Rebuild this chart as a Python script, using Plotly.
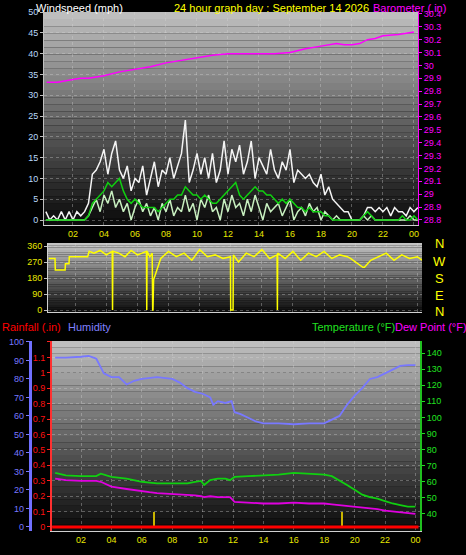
import numpy as np
import plotly.graph_objects as go

# ---------------- data ----------------
wind_t = list(np.arange(0.25, 24.26, 0.25))
gust = [2,0,1,0,2,0,2,0,2,1,2,4,
        11,12,14,17,11,16,19,12,
        10,13,7,10,9,13,6,10,
        14,8,12,11,15,10,13,16,
        24,9,12,16,11,15,10,16,
        9,12,19,11,17,14,18,11,
        14,19,10,15,13,11,17,12,
        10,14,12,17,9,12,11,10,
        11,9,8,11,6,8,5,4,
        3,2,2,0,0,0,1,3,
        3,2,3,2,3,1,3,2,
        2,1,3,2,3]
speed = [0,0,0,0,0,0,0,0,0,0,0,1,
         3,5,2,6,4,7,3,5,
         2,4,0,3,5,2,4,1,
         3,0,4,2,5,1,3,2,
         6,2,4,0,5,3,6,2,
         3,0,5,2,6,3,4,1,
         5,2,6,3,0,4,2,3,
         4,1,3,5,0,2,3,1,
         4,2,3,0,2,1,0,1,
         0,0,0,0,0,0,1,0,
         1,0,0,0,0,0,0,0,
         0,0,1,0,0]
avg = [0,0,0,0,0,0,0,0,0,0,0,1,
       4,5,6,7,9,8,9,10,
       7,5,4,5,4,3,3,3,
       3,2,3,4,5,5,6,6,
       8,7,6,6,5,6,5,4,
       4,5,6,7,8,9,6,5,
       6,7,8,7,7,6,6,5,
       4,5,4,5,4,3,3,2,
       3,2,2,2,1,1,0,0,
       0,0,0,0,0,0,1,2,
       1,0,0,0,0,0,0,0,
       1,0,0,1,0]

baro_t = [0.3,1,2,2.5,3,4,5,6,7,8,9,10,11,12,13,14,15,16,17,18,19,19.5,20,20.5,21,21.5,22,23,24]
baro = [29.87,29.87,29.89,29.9,29.9,29.92,29.95,29.97,29.99,30.02,30.04,30.06,30.08,30.09,30.09,
        30.09,30.09,30.1,30.13,30.15,30.17,30.16,30.16,30.17,30.2,30.21,30.23,30.24,30.26]

dir_t = [0.3,0.7,0.72,1.35,1.37,1.6,1.62,2.8,2.9,3.2,3.6,4.0,4.38,4.4,4.42,4.8,5.2,5.6,6.0,6.3,
         6.58,6.6,6.62,6.8,6.95,6.98,7.0,7.04,7.5,8,8.5,9,9.5,10,10.5,11,11.5,11.98,12.0,12.15,12.17,
         12.5,13,13.5,14,14.5,14.98,15,15.02,15.5,16,16.5,17,17.5,18,18.5,19,19.5,
         19.7,20.5,20.6,21,21.5,22,22.5,23,23.5,24,24.3]
direction = [290,290,225,225,260,260,300,300,330,320,335,310,330,0,330,320,300,335,310,320,
             330,0,330,300,320,0,0,170,290,330,300,320,280,340,300,310,290,300,0,0,310,
             270,320,300,340,290,310,0,320,290,330,280,320,300,330,290,310,300,
             290,240,240,280,300,320,280,310,290,300,280]

th_t = [0.3,1,2,3,3.3,4,5,6,6.5,7,8,9,9.5,9.9,10.1,10.5,11,11.5,11.8,12.1,13,14,15,16,17,18,18.5,19,19.5,20,20.5,21,21.5,22,22.5,23,23.5,24]
temp = [65.5,64,63.5,63.5,65,63,62,60,59.5,59,59,59,60,60.5,58,61,62,62,61,63,63.5,64,64.5,65.5,65,64.5,63.5,61,58,55,52,50.5,49.5,48,46.5,45.5,44.5,44.5]
dew = [62,61,60.5,60.5,60,57,55.5,54,53.5,53,52.5,52,51.5,51,50.5,51,50.5,50.5,50.5,47.5,47,46.5,46.5,47,46.5,46.5,46,45.5,45,44.5,44,43.5,43,42,41.5,41,40.5,40]

hum_t = [0.3,1,2,2.5,3,3.5,4,4.5,5,5.5,6,7,8,8.5,9,9.5,10,10.5,10.7,11,11.5,11.9,12.1,12.5,13,13.5,14,15,16,17,18,18.5,19,19.5,20,20.5,21,21.5,22,22.5,23,23.5,24]
hum = [91.5,91.5,92,92.5,91,83,81,81,77,79,80,81,80,78,75,73,72,70,66,68,67,68,62,61,59,57,56,56,55.5,56,56,58,60,66,71,75,80,81,83,85,87,87.5,87.5]

rain_t = [0.1, 24.2]
rain = [0, 0]
rate_t = [6.8, 19.2]
rate = [0.1, 0.1]

hour_ticks = [2,4,6,8,10,12,14,16,18,20,22,24]
hour_labels = ["02","04","06","08","10","12","14","16","18","20","22","00"]

# ---------------- figure ----------------
W, H = 466, 555
def px(x): return x / W
def py(y): return 1 - y / H

fig = go.Figure()
FONT = "Liberation Sans"

fig.add_trace(go.Scatter(x=wind_t, y=gust, mode="lines", line=dict(color="#f4f4f4", width=1.5), xaxis="x", yaxis="y"))
fig.add_trace(go.Scatter(x=wind_t, y=speed, mode="lines", line=dict(color="#c8f0c0", width=1.5), xaxis="x", yaxis="y"))
fig.add_trace(go.Scatter(x=wind_t, y=avg, mode="lines", line=dict(color="#10d010", width=1.5), xaxis="x", yaxis="y"))
fig.add_trace(go.Scatter(x=baro_t, y=baro, mode="lines", line=dict(color="#ff00ff", width=1.5), xaxis="x", yaxis="y2"))
fig.add_trace(go.Scatter(x=dir_t, y=direction, mode="lines", line=dict(color="#ffff00", width=1.5), xaxis="x2", yaxis="y3"))
fig.add_trace(go.Bar(x=rate_t, y=rate, width=0.08, marker=dict(color="#c8b400", line=dict(width=0)), xaxis="x3", yaxis="y4"))
fig.add_trace(go.Scatter(x=rain_t, y=rain, mode="lines", line=dict(color="#ff0000", width=3), xaxis="x3", yaxis="y4"))
fig.add_trace(go.Scatter(x=hum_t, y=hum, mode="lines", line=dict(color="#7878ff", width=1.8), xaxis="x3", yaxis="y5"))
fig.add_trace(go.Scatter(x=th_t, y=temp, mode="lines", line=dict(color="#10d010", width=1.8), xaxis="x3", yaxis="y6"))
fig.add_trace(go.Scatter(x=th_t, y=dew, mode="lines", line=dict(color="#e000e0", width=1.8), xaxis="x3", yaxis="y6"))

grid = dict(showgrid=True, gridcolor="rgba(215,215,215,0.35)", griddash="dot", gridwidth=1, zeroline=False, automargin=False)
tf = dict(family=FONT, size=9)

# gradient backgrounds
shapes = []
def gradient(x0, x1, y0, y1, top, bot, n=30):
    for i in range(n):
        f = i / (n - 1)
        c = int(top + (bot - top) * f)
        ya = y0 + (y1 - y0) * i / n
        yb = y0 + (y1 - y0) * (i + 1) / n
        shapes.append(dict(type="rect", xref="paper", yref="paper", x0=px(x0), x1=px(x1),
                           y0=py(ya), y1=py(yb), fillcolor=f"rgb({c},{c},{c})", line=dict(width=0), layer="below"))
gradient(44, 418, 12, 225, 190, 12)
gradient(48, 422, 243, 312, 195, 15)
gradient(52, 420, 341, 531, 190, 12)

nog = dict(showgrid=False, zeroline=False, automargin=False)
layout = dict(
    width=W, height=H, paper_bgcolor="black", plot_bgcolor="black", showlegend=False,
    margin=dict(l=0, r=0, t=0, b=0, autoexpand=False), bargap=0, font=dict(family=FONT),
    shapes=shapes,
    xaxis=dict(domain=[px(44), px(418)], anchor="y", range=[0.13, 24.26], tickvals=hour_ticks, ticktext=hour_labels,
               tickfont=dict(color="#e8e800", **tf), showline=True, linecolor="#d0d0d0", **grid),
    yaxis=dict(domain=[py(225), py(12)], anchor="x", range=[-1.2, 50], dtick=5,
               tickfont=dict(color="#b8d8f8", **tf), ticks="outside", ticklen=3, tickcolor="#c0c0c0",
               showline=True, linecolor="#c0c0c0", **grid),
    yaxis2=dict(overlaying="y", side="right", anchor="x", range=[28.761, 30.415],
                tickvals=[28.8,28.9,29,29.1,29.2,29.3,29.4,29.5,29.6,29.7,29.8,29.9,30,30.1,30.2,30.3,30.4],
                ticktext=["28.8","28.9","29","29.1","29.2","29.3","29.4","29.5","29.6","29.7","29.8","29.9","30","30.1","30.2","30.3","30.4"],
                tickfont=dict(color="#ff00ff", **tf), ticks="outside", ticklen=3, tickcolor="#ff00ff",
                showline=True, linecolor="#ff00ff", **nog),
    xaxis2=dict(domain=[px(48), px(422)], anchor="y3", range=[0.25, 24.3], tickvals=hour_ticks,
                showticklabels=False, showline=True, linecolor="#d0d0d0", **grid),
    yaxis3=dict(domain=[py(312), py(243)], anchor="x2", range=[-11, 377], tickvals=[0,90,180,270,360],
                tickfont=dict(color="#e8e800", **tf), ticks="outside", ticklen=3, tickcolor="#c0c0c0",
                showline=True, linecolor="#d0d0d0", **grid),
    xaxis3=dict(domain=[px(52), px(420)], anchor="y4", range=[0.09, 24.3], tickvals=hour_ticks, ticktext=hour_labels,
                tickfont=dict(color="#e8e800", **tf), showline=True, linecolor="#d0d0d0", **grid),
    yaxis4=dict(domain=[py(531), py(341)], anchor="x3", range=[-0.026, 1.206],
                tickvals=[0,0.1,0.2,0.3,0.4,0.5,0.6,0.7,0.8,0.9,1,1.1,1.2],
                ticktext=["0","0.1","0.2","0.3","0.4","0.5","0.6","0.7","0.8","0.9","1","1.1",""],
                tickfont=dict(color="#ff1010", **tf), ticks="outside", ticklen=3, tickcolor="#ff2020",
                showline=True, linecolor="#ff3030", linewidth=2, **grid),
    yaxis5=dict(overlaying="y4", anchor="free", position=0.064, side="left", range=[-2.2, 100.5], dtick=10,
                tickfont=dict(color="#7878ff", **tf), ticks="outside", ticklen=3, tickcolor="#7878ff",
                showline=True, linecolor="#7070ff", linewidth=3, **nog),
    yaxis6=dict(overlaying="y4", anchor="x3", side="right", range=[29.4, 147.5], tickvals=[40,50,60,70,80,90,100,110,120,130,140],
                tickfont=dict(color="#20e020", **tf), ticks="outside", ticklen=3, tickcolor="#20e020",
                showline=True, linecolor="#20c020", linewidth=2, **nog),
)
fig.update_layout(**layout)

def ann(text, x, y, color, size=11, anchor="left", va="middle"):
    fig.add_annotation(text=text, x=px(x), y=py(y), xref="paper", yref="paper", showarrow=False,
                       xanchor=anchor, yanchor=va, font=dict(family=FONT, size=size, color=color))

ann("Windspeed (mph)", 34, 0, "white", va="top")
ann("24 hour graph day : September 14 2026", 172, 0, "#ffff00", va="top")
ann("Barometer (.in)", 371, 0, "#ff00ff", va="top")
ann("Rainfall (.in)", 0, 327, "#ff0000")
ann("Humidity", 66, 327, "#8080ff")
ann("Temperature (°F)", 310, 327, "#20e020")
ann("Dew Point (°F)", 393, 327, "#ff00ff")
for lab, yy in zip(["N", "W", "S", "E", "N"], [244, 261, 278, 295, 311]):
    ann(lab, 439, yy, "#ffff00", size=13, anchor="center")

fig.write_html("out.html", config={"displayModeBar": False},
               post_script="document.body.style.margin='0';document.body.style.overflow='hidden';")
